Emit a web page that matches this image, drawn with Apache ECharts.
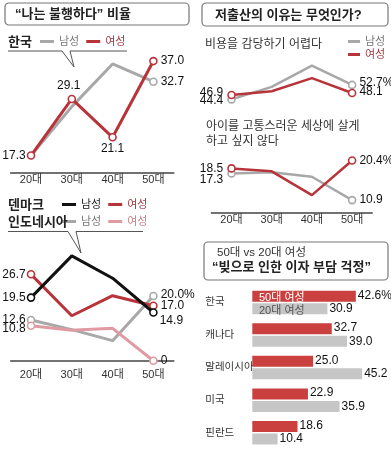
<!DOCTYPE html>
<html><head><meta charset="utf-8">
<script src="https://cdn.jsdelivr.net/npm/echarts@6/dist/echarts.min.js"></script>
<style>html,body{margin:0;padding:0;background:#fff}#c{width:391px;height:449px}</style>
</head><body><div id="c"></div>
<script>
// ---- data ----
const ages = ['20대', '30대', '40대', '50대'];
const krMale = [17.3, 27.5, 36.4, 32.7];
const krFemale = [17.3, 29.1, 21.1, 37.0];
const dkMale = [19.5, 32.4, 25.5, 14.9];
const dkFemale = [26.7, 13.9, 20.1, 17.0];
const idMale = [12.6, 9.6, 6.2, 20.0];
const idFemale = [10.8, 9.4, 10.0, 0];
const costMale = [44.4, 51.6, 63.8, 52.7];
const costFemale = [46.9, 49.1, 56.6, 48.1];
const painMale = [17.3, 17.6, 16.5, 10.9];
const painFemale = [18.5, 17.8, 12.1, 20.4];
const countries = ['한국', '캐나다', '말레이시아', '미국', '핀란드'];
const debt50 = [42.6, 32.7, 25.0, 22.9, 18.6];
const debt20 = [30.9, 39.0, 45.2, 35.9, 10.4];

const FF = 'Liberation Sans, Arial, Noto Sans CJK KR, sans-serif';
const KF = 'Liberation Sans, Noto Sans CJK KR, sans-serif';
const RED = '#b8343b', GRAY = '#a8a8a8', BLACK = '#111', PINK = '#df9aa2';

function fmt(v) { return v === 0 ? '0' : v.toFixed(1); }

function pts(vals, marks, labels) {
  return vals.map((v, i) => {
    const d = { value: v, symbol: marks.indexOf(i) >= 0 ? 'circle' : 'none' };
    if (labels[i]) {
      const l = Object.assign({}, labels[i]);
      if (l.pct) { d.pct = true; delete l.pct; }
      d.label = Object.assign({ show: true }, l);
    }
    return d;
  });
}

function lineSeries(name, idx, vals, color, width, marks, labels, z) {
  return {
    type: 'line', name: name, xAxisIndex: idx, yAxisIndex: idx,
    data: pts(vals, marks, labels), symbolSize: 7, z: z,
    lineStyle: { color: color, width: width },
    itemStyle: { color: '#fff', borderColor: color, borderWidth: 1.6 },
    label: { show: false, fontSize: 12, color: '#111', fontFamily: FF,
      formatter: p => fmt(p.value) + (p.data.pct ? '%' : '') },
    emphasis: { disabled: true }, animation: false
  };
}

function catAxis(idx, show) {
  return {
    type: 'category', gridIndex: idx, data: ages, show: show, boundaryGap: true,
    axisLine: { lineStyle: { color: '#444', width: 1.5 } },
    axisTick: { inside: true, length: 6, alignWithLabel: true, lineStyle: { color: '#444', width: 1.2 } },
    axisLabel: { fontSize: 11, color: '#333', margin: 2, fontFamily: KF }
  };
}
function valAxis(idx, min, max) {
  return { type: 'value', gridIndex: idx, min: min, max: max, show: false, splitLine: { show: false } };
}

const L = (pos, dist, extra) => Object.assign({ position: pos, distance: dist }, extra || {});

function legend(left, top, items, orient) {
  return {
    left: left, top: top, orient: orient || 'horizontal', padding: 0,
    itemWidth: 14, itemHeight: 3, itemGap: 7, icon: 'rect', selectedMode: false,
    formatter: n => n.split(' ')[1],
    textStyle: { fontSize: 11, fontFamily: KF },
    data: items.map(it => ({ name: it[0], itemStyle: { color: it[1], borderWidth: 0 }, textStyle: { color: it[2] } }))
  };
}

const titleStyle = (size, bold, extra) => Object.assign({ fontSize: size, fontWeight: bold ? 'bold' : 'normal', color: '#222', fontFamily: KF, lineHeight: 16 }, extra || {});

const option = {
  animation: false,
  title: [
    { text: '“나는 불행하다” 비율', left: 15, top: 6, padding: 0, textStyle: titleStyle(13, true) },
    { text: '한국', left: 8, top: 34, padding: 0, textStyle: titleStyle(13, true) },
    { text: '덴마크', left: 8, top: 197, padding: 0, textStyle: titleStyle(13, true) },
    { text: '인도네시아', left: 8, top: 214, padding: 0, textStyle: titleStyle(13, true) },
    { text: '저출산의 이유는 무엇인가?', left: 215, top: 7, padding: 0, textStyle: titleStyle(13, true) },
    { text: '비용을 감당하기 어렵다', left: 205, top: 37, padding: 0, textStyle: titleStyle(12, false, { color: '#333' }) },
    { text: '아이를 고통스러운 세상에 살게\n하고 싶지 않다', left: 206, top: 119, padding: 0, textStyle: titleStyle(12, false, { color: '#333', lineHeight: 15 }) },
    { text: '50대 vs 20대 여성', left: 217, top: 245, padding: 0, textStyle: titleStyle(11.5, false, { color: '#333' }) },
    { text: '“빚으로 인한 이자 부담 걱정”', left: 212, top: 259, padding: 0, textStyle: titleStyle(13, true) }
  ],
  legend: [
    legend(40, 36, [['한국 남성', GRAY, '#777'], ['한국 여성', RED, '#9c3a3f']]),
    legend(62, 199, [['덴마크 남성', BLACK, '#222'], ['덴마크 여성', RED, '#9c3a3f']]),
    legend(62, 216, [['인도네시아 남성', GRAY, '#777'], ['인도네시아 여성', PINK, '#c77f88']]),
    Object.assign(legend(348, 36, [['비용 남성', GRAY, '#777'], ['비용 여성', RED, '#9c3a3f']], 'vertical'), { itemWidth: 12, itemGap: 2 }),
    { left: 254, top: 291, padding: 0, icon: 'none', itemWidth: 0, itemGap: 0, selectedMode: false,
      data: [{ name: '50대 여성', textStyle: { color: '#fff' } }], textStyle: { fontSize: 11, fontFamily: KF } },
    { left: 254, top: 304, padding: 0, icon: 'none', itemWidth: 0, itemGap: 0, selectedMode: false,
      data: [{ name: '20대 여성', textStyle: { color: '#555' } }], textStyle: { fontSize: 11, fontFamily: KF } }
  ],
  graphic: [
    { type: 'rect', shape: { x: 5, y: 3, width: 184, height: 22, r: 4 }, style: { fill: 'none', stroke: '#777', lineWidth: 1.2 }, silent: true },
    { type: 'rect', shape: { x: 202, y: 3, width: 186, height: 23, r: 4 }, style: { fill: 'none', stroke: '#777', lineWidth: 1.2 }, silent: true },
    { type: 'rect', shape: { x: 204, y: 242, width: 184, height: 38, r: 4 }, style: { fill: 'none', stroke: '#777', lineWidth: 1.2 }, silent: true },
    { type: 'polyline', shape: { points: [[8, 51], [62, 51], [74, 67], [70, 51], [127, 51]] }, style: { fill: 'none', stroke: '#555', lineWidth: 1 }, silent: true },
    { type: 'polyline', shape: { points: [[8, 231.5], [68, 231.5], [81, 253], [76, 231.5], [143, 231.5]] }, style: { fill: 'none', stroke: '#555', lineWidth: 1 }, silent: true }
  ],
  grid: [
    { left: 10.6, top: 46.7, width: 163.2, height: 125.6 },
    { left: 10.6, top: 250.7, width: 163.2, height: 116.5 },
    { left: 211.4, top: 61.7, width: 160.8, height: 45.4 },
    { left: 211.4, top: 153.8, width: 160.8, height: 58.8 },
    { left: 252.3, top: 286.2, width: 121.5, height: 165.5 }
  ],
  xAxis: [
    catAxis(0, true), catAxis(1, true), catAxis(2, false), catAxis(3, true),
    { type: 'value', gridIndex: 4, min: 0, max: 50, show: false, splitLine: { show: false } }
  ],
  yAxis: [
    valAxis(0, 13.8, 40), valAxis(1, -2, 34), valAxis(2, 40, 66), valAxis(3, 7.9, 22),
    { type: 'category', gridIndex: 4, data: countries, inverse: true,
      axisLine: { show: false }, axisTick: { show: false },
      axisLabel: { align: 'right', margin: 1, fontSize: 10.5, color: '#333', fontFamily: KF,
        formatter: v => '{a|' + v + '}',
        rich: { a: { width: 46, align: 'left', fontSize: 10.5, color: '#333', fontFamily: KF } } } }
  ],
  series: [
    lineSeries('한국 남성', 0, krMale, GRAY, 3, [3], {
      1: L('bottom', 5), 2: L('bottom', 11), 3: L('right', 3) }, 2),
    lineSeries('한국 여성', 0, krFemale, RED, 3, [0, 1, 2, 3], {
      0: L('left', 1), 1: L('top', 3, { offset: [-3, 0] }), 2: L('bottom', 1), 3: L('right', 3) }, 3),

    lineSeries('인도네시아 남성', 1, idMale, GRAY, 3, [0, 3], {
      0: L('left', 1), 3: L('right', 3, { pct: true, offset: [0, -1] }) }, 2),
    lineSeries('인도네시아 여성', 1, idFemale, PINK, 3, [0, 3], {
      0: L('left', 1, { offset: [0, 3] }), 3: L('right', 3) }, 2),
    lineSeries('덴마크 여성', 1, dkFemale, RED, 3, [0, 3], {
      0: L('left', 1), 3: L('right', 3) }, 3),
    lineSeries('덴마크 남성', 1, dkMale, BLACK, 3, [0, 3], {
      0: L('left', 1), 3: L('right', 2, { offset: [0, 8] }) }, 4),

    lineSeries('비용 남성', 2, costMale, GRAY, 2.5, [0, 3], {
      0: L('left', 4, { offset: [0, 1] }), 3: L('right', 3, { pct: true, offset: [0, -2] }) }, 2),
    lineSeries('비용 여성', 2, costFemale, RED, 2.5, [0, 3], {
      0: L('left', 4, { offset: [0, -2] }), 3: L('right', 3, { offset: [0, -1] }) }, 3),
    lineSeries('고통 남성', 3, painMale, GRAY, 2.5, [0, 3], {
      0: L('left', 4, { offset: [0, 6] }), 3: L('right', 3) }, 2),
    lineSeries('고통 여성', 3, painFemale, RED, 2.5, [0, 3], {
      0: L('left', 4), 3: L('right', 3, { pct: true }) }, 3),

    { type: 'bar', name: '50대 여성', xAxisIndex: 4, yAxisIndex: 4, data: debt50,
      barWidth: 11, barGap: '14%', itemStyle: { color: '#c9403f' }, animation: false,
      emphasis: { disabled: true },
      label: { show: true, position: 'right', distance: 2, offset: [0, -1], fontSize: 12, color: '#111', fontFamily: FF,
        formatter: p => p.value.toFixed(1) + (p.dataIndex === 0 ? '%' : '') } },
    { type: 'bar', name: '20대 여성', xAxisIndex: 4, yAxisIndex: 4, data: debt20,
      barWidth: 11, barGap: '14%', itemStyle: { color: '#c6c6c6' }, animation: false,
      emphasis: { disabled: true },
      label: { show: true, position: 'right', distance: 2, fontSize: 12, color: '#111', fontFamily: FF,
        formatter: p => p.value.toFixed(1) } }
  ]
};

const chart = echarts.init(document.getElementById('c'), null, { renderer: 'canvas' });
chart.setOption(option);
</script>
</body></html>
